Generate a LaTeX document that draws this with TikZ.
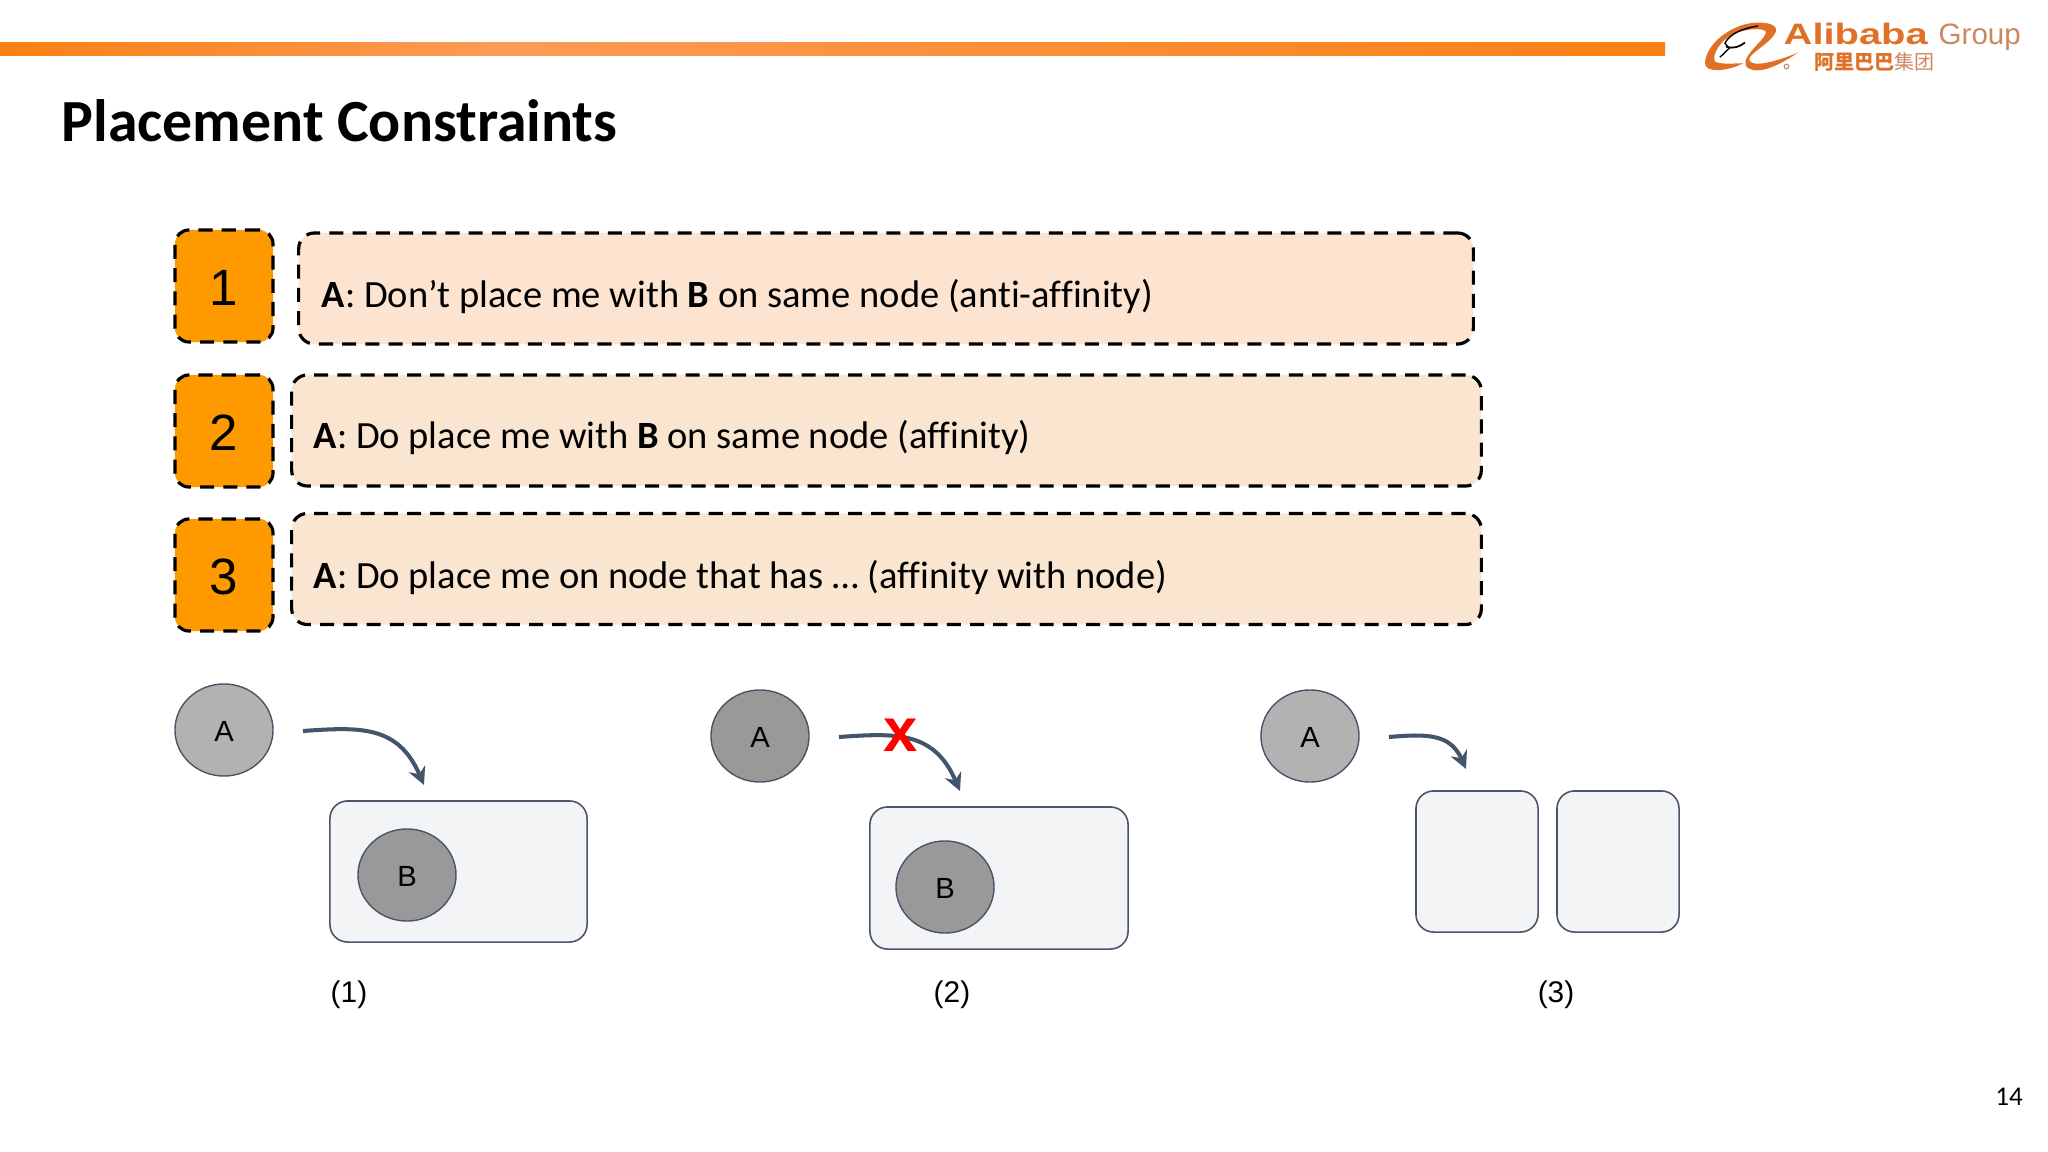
\documentclass[tikz,border=0pt]{standalone}
\usepackage{fontspec}
\setmainfont{Carlito}[Ligatures=CommonOff]
\newfontfamily\armfont{Liberation Sans}
\newfontfamily\logofont[FakeStretch=1.35]{Liberation Sans}
\newfontfamily\cjkfont{Noto Sans CJK SC}
\usepackage{xcolor}
\usetikzlibrary{positioning,arrows.meta,shapes.geometric}
\definecolor{barorange}{RGB}{250, 128, 20}
\definecolor{barlight}{RGB}{253, 155, 85}
\definecolor{numorange}{RGB}{255, 153, 0}
\definecolor{rulepeach}{RGB}{252, 228, 208}
\definecolor{rulepeachtwo}{RGB}{250, 230, 208}
\definecolor{hostfill}{RGB}{243, 244, 246}
\definecolor{edgeslate}{RGB}{75, 85, 105}
\definecolor{arrowslate}{RGB}{68, 84, 106}
\definecolor{podlight}{RGB}{178, 178, 178}
\definecolor{poddark}{RGB}{153, 153, 153}
\definecolor{logoorange}{RGB}{224, 112, 40}
\definecolor{logopale}{RGB}{205, 135, 95}

\begin{document}
\begin{tikzpicture}[
    x=0.01cm, y=-0.01cm,
    numbox/.style={rectangle, draw, dash pattern=on 4pt off 2.6pt, line width=0.9pt, rounded corners=4pt, fill=numorange, minimum width=0.98cm, minimum height=1.12cm, inner sep=0pt, text height=11pt, text depth=0pt, font=\armfont\fontsize{14.5}{14.5}\selectfont},
    rulebox/.style={rectangle, draw, dash pattern=on 4pt off 2.6pt, line width=0.9pt, rounded corners=4.5pt, fill=rulepeach, minimum height=1.11cm, inner sep=0pt},
    ruletext/.style={anchor=base west, inner sep=0pt, font=\fontsize{10.95}{13}\selectfont},
    pod/.style={ellipse, draw=edgeslate, line width=0.4pt, minimum width=0.98cm, minimum height=0.92cm, inner sep=0pt, text height=6.5pt, text depth=0pt, font=\armfont\fontsize{8.3}{8.3}\selectfont},
    hostbox/.style={rectangle, draw=edgeslate, line width=0.45pt, rounded corners=5pt, fill=hostfill, inner sep=0pt},
    caselabel/.style={inner sep=0pt, font=\armfont\fontsize{8.5}{8.5}\selectfont},
    placearrow/.style={draw=arrowslate, line width=1.15pt, -{Stealth[length=5pt,width=5pt]}}
  ]
\useasboundingbox (0,0) rectangle (2048,1152);

% top bar, title, page number
\fill[left color=barorange, right color=barlight] (0,43) rectangle (500,56);
\fill[left color=barlight, right color=barorange] (500,43) rectangle (1665,56);
\node[anchor=base west, inner sep=0pt, font=\bfseries\fontsize{17}{20}\selectfont] (title) at (61,141.5) {Placement Constraints};
\node[inner sep=0pt, font=\fontsize{7.7}{9}\selectfont] (pagenum) at (2009,1097) {14};

% logo
\begin{scope}[shift={(1680,0)}, x=0.00333cm, y=-0.00333cm]
  \path[fill=logoorange] (75,185) .. controls (85,120) and (170,65) .. (240,68) .. controls (262,68) and (295,75) .. (288,95) .. controls (275,130) and (205,160) .. (208,180) .. controls (215,205) and (290,185) .. (355,158) .. controls (300,195) and (240,225) .. (205,205) .. controls (170,180) and (250,125) .. (258,100) .. controls (262,82) and (205,85) .. (165,100) .. controls (120,120) and (95,165) .. (105,185) .. controls (125,195) and (165,190) .. (190,190) .. controls (150,212) and (70,225) .. (75,185) -- cycle;
  \draw[line width=0.4pt] (235,78) .. controls (190,85) and (150,100) .. (135,130) -- (148,145) -- (120,172);
  \draw[line width=0.5pt] (138,140) .. controls (160,148) and (180,140) .. (195,128);
  \draw[logopale, line width=0.3pt] (320,200) circle (7);
\end{scope}
\node[anchor=base west, inner sep=0pt, text=logoorange, font=\logofont\bfseries\fontsize{8.4}{8.4}\selectfont] (logoname) at (1783,45) {Alibaba};
\node[anchor=base west, inner sep=0pt, text=logopale, font=\armfont\fontsize{8.4}{8.4}\selectfont] (logogroup) at (1938,45) {Group};
\node[anchor=base west, inner sep=0pt, text=logoorange, font=\cjkfont\fontsize{5.7}{5.7}\selectfont] (logocn) at (1814,70) {\textbf{阿里巴巴}\textcolor{logopale}{集团}};

% numbered rules
\node[numbox] (num1) at (224,286) {1};
\node[numbox] (num2) at (224,431) {2};
\node[numbox] (num3) at (224,575) {3};
\node[rulebox, minimum width=11.74cm] (rule1) at (886,288.5) {};
\node[rulebox, minimum width=11.89cm, fill=rulepeachtwo] (rule2) at (886.5,430.5) {};
\node[rulebox, minimum width=11.89cm, fill=rulepeachtwo] (rule3) at (886.5,569) {};
\node[ruletext] (text1) at (321,307.5) {\textbf{A}: Don’t place me with \textbf{B} on same node (anti-affinity)};
\node[ruletext] (text2) at (313,449) {\textbf{A}: Do place me with \textbf{B} on same node (affinity)};
\node[ruletext] (text3) at (313,588) {\textbf{A}: Do place me on node that has … (affinity with node)};

% case 1
\node[pod, fill=podlight] (podA1) at (224,730) {A};
\node[hostbox, minimum width=2.57cm, minimum height=1.41cm] (host1) at (458.5,871.5) {};
\node[pod, fill=poddark] (podB1) at (407,875) {B};
\coordinate (start1) at (303,731);
\coordinate (end1) at (424,785);
\draw[placearrow] (start1) .. controls (360,727) and (398,725) .. (end1);
\node[caselabel] (case1) at (349,995) {(1)};

% case 2
\node[pod, fill=poddark] (podA2) at (760,736) {A};
\node[hostbox, minimum width=2.58cm, minimum height=1.42cm] (host2) at (999,878) {};
\node[pod, fill=poddark] (podB2) at (945,887) {B};
\coordinate (start2) at (839,737);
\coordinate (end2) at (960,791);
\draw[placearrow] (start2) .. controls (896,733) and (934,731) .. (end2);
\node[inner sep=0pt, text=red, font=\armfont\bfseries\fontsize{17.5}{17.5}\selectfont] (cross2) at (901,735) {x};
\node[caselabel] (case2) at (952,995) {(2)};

% case 3
\node[pod, fill=podlight] (podA3) at (1310,736) {A};
\node[hostbox, minimum width=1.22cm, minimum height=1.41cm] (host3a) at (1477,861.5) {};
\node[hostbox, minimum width=1.22cm, minimum height=1.41cm] (host3b) at (1618,861.5) {};
\coordinate (start3) at (1389,737);
\coordinate (end3) at (1466,769);
\draw[placearrow] (start3) .. controls (1425,734) and (1450,733) .. (end3);
\node[caselabel] (case3) at (1556,995) {(3)};
\end{tikzpicture}
\end{document}
